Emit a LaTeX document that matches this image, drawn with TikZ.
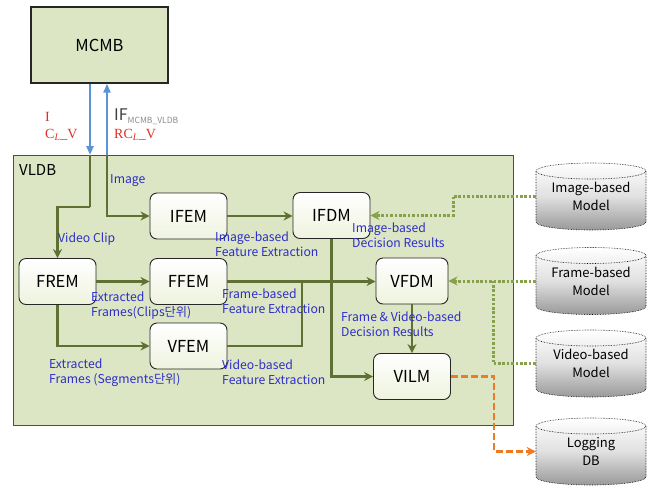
\documentclass[tikz,border=0pt]{standalone}
\usepackage{fontspec}
\setmainfont{Noto Sans CJK KR}
\newfontfamily\serifrm{Liberation Serif}
\usetikzlibrary{arrows.meta}
\definecolor{boxgreen}{HTML}{DCE6C4}
\definecolor{olivel}{HTML}{5E7133}
\definecolor{dotg}{HTML}{86A04C}
\definecolor{orng}{HTML}{EE7A22}
\definecolor{bluea}{HTML}{5B93D8}
\definecolor{labblue}{HTML}{2E2EC8}
\definecolor{redl}{HTML}{E0302A}
\definecolor{nodefill}{HTML}{EEF3DE}
\newcommand\dbcyl[3]{%
  \path[top color=white,bottom color=black!40,middle color=black!12]
    (536,#2-25.5) -- (536,#2+25.5)
    arc[start angle=180,end angle=360,x radius=55pt,y radius=8pt]
    -- (646,#2-25.5)
    arc[start angle=0,end angle=180,x radius=55pt,y radius=8pt] -- cycle;
  \draw[cylline] (536,#2-25.5) -- (536,#2+25.5)
    arc[start angle=180,end angle=360,x radius=55pt,y radius=8pt]
    -- (646,#2-25.5)
    arc[start angle=0,end angle=180,x radius=55pt,y radius=8pt];
  \draw[cylline] (536,#2-25.5)
    arc[start angle=180,end angle=360,x radius=55pt,y radius=8pt];
  \node[cylnode] (#1) at (591,#2) {#3};}
\begin{document}
\begin{tikzpicture}[x=1pt,y=-1pt,
  module/.style={draw=black!85,line width=0.9pt,rounded corners=7pt,
    top color=white,bottom color=nodefill,minimum width=77pt,
    minimum height=46pt,inner sep=0pt,font=\fontsize{16.5}{18}\selectfont},
  cylline/.style={densely dotted,line width=0.6pt,draw=black},
  cylnode/.style={minimum width=110pt,minimum height=67pt,inner sep=0pt,
    align=center,font=\fontsize{13}{18}\selectfont},
  gline/.style={draw=olivel,line width=2.4pt},
  garrow/.style={gline,-{Stealth[length=9pt,width=9pt]}},
  dline/.style={draw=dotg,line width=3pt,dash pattern=on 2.6pt off 1.8pt},
  darrow/.style={dline,-{Stealth[length=9pt,width=9pt]}},
  oarrow/.style={draw=orng,line width=2.6pt,dash pattern=on 7pt off 3pt,
    -{Stealth[length=9pt,width=9pt]}},
  barrow/.style={draw=bluea,line width=2.4pt,-{Triangle[length=9pt,width=7pt]}},
  lab/.style={text=labblue,anchor=west,align=left,inner sep=0pt,
    font=\fontsize{12.2}{15}\selectfont},
  redlab/.style={text=redl,anchor=west,inner sep=0pt,
    font=\serifrm\fontsize{14}{16}\selectfont}]
\useasboundingbox (0,0) rectangle (655,491);
\fill[white] (0,0) rectangle (655,491);
% containers
\node[draw=black!85,line width=1.4pt,fill=boxgreen,minimum width=137pt,
  minimum height=76pt,inner sep=0pt,font=\fontsize{16.5}{18}\selectfont]
  (mcmb) at (99.5,45) {MCMB};
\node[draw=black!70,line width=1pt,fill=boxgreen,minimum width=500pt,
  minimum height=270pt,inner sep=0pt] (vldb) at (263,290) {};
\node[anchor=west,inner sep=0pt,font=\fontsize{15}{17}\selectfont]
  (vldbl) at (19,170) {VLDB};
% modules
\node[module] (ifem) at (188.5,216) {IFEM};
\node[module] (ifdm) at (331.5,215.5) {IFDM};
\node[module] (frem) at (57.5,281.5) {FREM};
\node[module] (ffem) at (188.5,281.5) {FFEM};
\node[module] (vfem) at (188.5,346) {VFEM};
\node[module,minimum width=72pt] (vfdm) at (412,281) {VFDM};
\node[module] (vilm) at (412,376.5) {VILM};
% databases
\dbcyl{imgdb}{196.5}{Image-based\\Model}
\dbcyl{frmdb}{281}{Frame-based\\Model}
\dbcyl{viddb}{363.5}{Video-based\\Model}
\dbcyl{logdb}{451.5}{Logging\\DB}
% coordinates
\coordinate (vin) at (90,155);
\coordinate (vbend) at (90,207);
\coordinate (iin) at (107,155);
\coordinate (j1) at (302,281);
\coordinate (d1) at (453,196.5);
\coordinate (d2) at (493,281);
\coordinate (o1) at (494,376.5);
% MCMB <-> VLDB arrows
\draw[barrow] ([xshift=-9.5pt]mcmb.south) -- (vin);
\draw[barrow] (iin) -- ([xshift=7.5pt]mcmb.south);
% green connectors
\draw[gline] (vin) -- (vbend);
\draw[garrow] (vbend) -| (frem.north);
\draw[garrow] (iin) |- (ifem.west);
\draw[garrow] (ifem.east) -- (ifem.east -| ifdm.west);
\draw[garrow] (frem.east) -- (ffem.west);
\draw[garrow] (frem.south) |- (vfem.west);
\draw[gline] (vfem.east) -| (j1);
\draw[garrow] (ffem.east) -- (ffem.east -| vfdm.west);
\draw[garrow] (ifdm.south) |- (vilm.west);
\draw[garrow] (vfdm.south) -- (vilm.north);
% dotted model links
\draw[dline] (imgdb.west) -- (d1);
\draw[darrow] (d1) |- (ifdm.east);
\draw[darrow] (frmdb.west) -- (vfdm.east);
\draw[dline] (viddb.west) -| (d2);
% logging
\draw[oarrow] (vilm.east) -- (o1) |- (logdb.west);
% labels
\node[redlab] (li) at (45,117) {I};
\node[redlab] (lc) at (45,135) {C\textsubscript{\textit{L}}\_V};
\node[anchor=west,inner sep=0pt,text=black!75] (lif) at (114,117)
  {\fontsize{16}{18}\selectfont IF\textsubscript{\fontsize{8.5}{9}\selectfont\textcolor{black!45}{\textit{MCMB\_VLDB}}}};
\node[redlab] (lrc) at (114,135) {RC\textsubscript{\textit{L}}\_V};
\node[lab] (limg) at (110,181) {Image};
\node[lab] (lvc) at (58,239) {Video Clip};
\node[lab] (lifx) at (215,244) {Image-based\\Feature Extraction};
\node[lab] (lidr) at (352,235) {Image-based\\Decision Results};
\node[lab] (lefc) at (91,306) {Extracted\\Frames(Clips단위)};
\node[lab] (lffx) at (222,301) {Frame-based\\Feature Extraction};
\node[lab] (lfvd) at (341,324) {Frame \& Video-based\\Decision Results};
\node[lab] (lefs) at (49,372.5) {Extracted\\Frames (Segments단위)};
\node[lab] (lvfx) at (222,372.5) {Video-based\\Feature Extraction};
\end{tikzpicture}
\end{document}
